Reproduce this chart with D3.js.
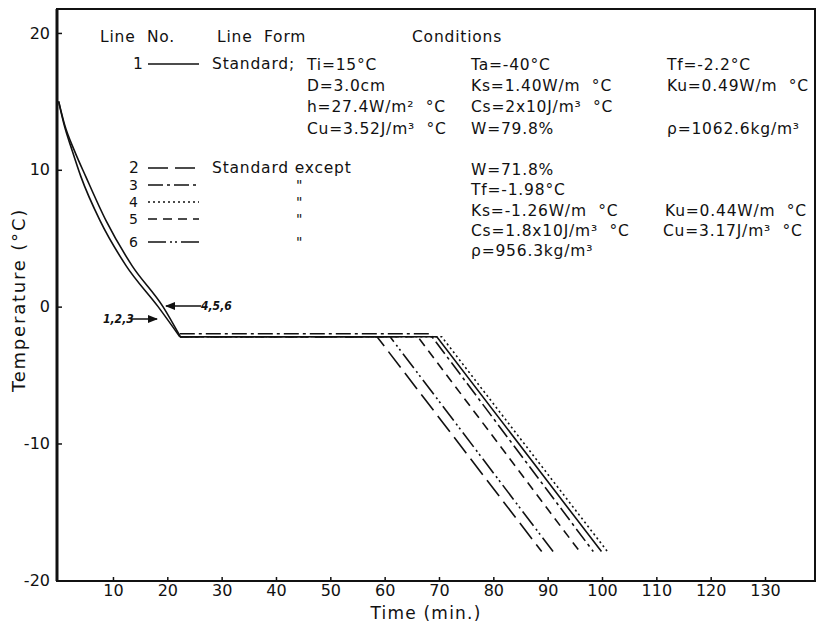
<!DOCTYPE html>
<html>
<head>
<meta charset="utf-8">
<script src="https://cdn.jsdelivr.net/npm/d3@7"></script>
<style>
body { margin: 0; background: #fff; }
svg text { font-family: "DejaVu Sans", sans-serif; fill: #111; white-space: pre; }
</style>
</head>
<body>
<div class="container"></div>
<script>
// cooling down to the freezing point (same curve for 1,2,3 and for 4,5,6)
const coolTime123 = [0, 1.0, 2.5, 4.1, 7.6, 12.4, 18.3, 22.3]
const coolTemp123 = [15, 13.3, 11.4, 9.5, 6.3, 3.0, 0, -2.2]
const coolTime456 = [0, 1.1, 2.9, 5.0, 8.7, 13.5, 19.2, 22.4]
const coolTemp456 = [15, 13.3, 11.4, 9.5, 6.3, 3.0, 0, -2.2]

// freezing plateau + descent, one entry per line
const lineNos = ['1', '2', '3', '4', '5', '6']
const freezeTemp = [-2.2, -2.2, -1.98, -2.2, -2.2, -2.2]
const freezeStart = [22.3, 22.3, 22.3, 22.4, 22.4, 22.4]
const freezeEnd = [69.6, 58.6, 68.3, 70.5, 66.1, 61.0]
const endTime = [99.9, 88.9, 98.4, 101.2, 95.9, 91.0]
const endTemp = [-17.9, -17.9, -17.9, -18.0, -17.9, -17.9]

const xTicks = [10, 20, 30, 40, 50, 60, 70, 80, 90, 100, 110, 120, 130]
const yTicks = [-20, -10, 0, 10, 20]

const lineForms = ['Standard;', 'Standard except', '"', '"', '"', '"']
const standardConditions = [
    ['Ti=15°C', 'Ta=-40°C', 'Tf=-2.2°C'],
    ['D=3.0cm', 'Ks=1.40W/m  °C', 'Ku=0.49W/m  °C'],
    ['h=27.4W/m²  °C', 'Cs=2x10J/m³  °C', ''],
    ['Cu=3.52J/m³  °C', 'W=79.8%', 'ρ=1062.6kg/m³']
]
const exceptConditions = [
    ['W=71.8%'],
    ['Tf=-1.98°C'],
    ['Ks=-1.26W/m  °C', 'Ku=0.44W/m  °C'],
    ['Cs=1.8x10J/m³  °C', 'Cu=3.17J/m³  °C'],
    ['ρ=956.3kg/m³']
]

// styles
const dashes = ['none', '20,7', '15,4,3,4', '2,3', '9,6', '18,4,2,3,2,4']
const margin = {top: 9, left: 57, right: 3, bottom: 44}
const W = 818, H = 625
const width = W - margin.left - margin.right
const height = H - margin.top - margin.bottom

const svg = d3.select('.container')
    .append('svg')
    .attr('width', W)
    .attr('height', H)

const g = svg.append('g')
    .attr('transform', `translate(${margin.left},${margin.top})`)

const x = d3.scaleLinear().domain([-0.3, 139.2]).range([0, width])
const y = d3.scaleLinear().domain([-20.05, 21.75]).range([height, 0])

// axes
const xAxis = g.append('g')
    .attr('transform', `translate(0,${height})`)
    .call(d3.axisBottom(x).tickValues(xTicks).tickSize(-4).tickPadding(4).tickFormat(d => String(d)))
const yAxis = g.append('g')
    .call(d3.axisLeft(y).tickValues(yTicks).tickSize(-5).tickPadding(7).tickFormat(d => String(d)))

;[xAxis, yAxis].forEach(a => {
    a.select('.domain').remove()
    a.selectAll('line').attr('stroke', '#111').attr('stroke-width', 1.5)
    a.selectAll('text').style('font-size', '16px').attr('fill', '#111')
})

// frame
g.append('rect')
    .attr('x', 0).attr('y', 0)
    .attr('width', width).attr('height', height)
    .attr('fill', 'none').attr('stroke', '#111').attr('stroke-width', 2)
g.append('line')
    .attr('x1', 0).attr('x2', 0).attr('y1', 0).attr('y2', height)
    .attr('stroke', '#111').attr('stroke-width', 3)

// axis titles
svg.append('text')
    .attr('x', 426).attr('y', 619)
    .attr('text-anchor', 'middle')
    .style('font-size', '17px').style('letter-spacing', '1.2px')
    .text('Time (min.)')
svg.append('text')
    .attr('transform', 'translate(25,300) rotate(-90)')
    .attr('text-anchor', 'middle')
    .style('font-size', '18px').style('letter-spacing', '1.8px')
    .text('Temperature (°C)')

const line = d3.line().x(d => x(d[0])).y(d => y(d[1]))
const curve = d3.line().x(d => x(d[0])).y(d => y(d[1])).curve(d3.curveMonotoneX)

// cooling curves
const coolA = coolTime123.map((t, i) => [t, coolTemp123[i]])
const coolB = coolTime456.map((t, i) => [t, coolTemp456[i]])
g.selectAll('.cool')
    .data([coolA, coolB])
    .enter()
    .append('path')
    .attr('class', 'cool')
    .attr('d', curve)
    .attr('fill', 'none')
    .attr('stroke', '#111')
    .attr('stroke-width', 1.6)

// plateau and descent for every line
const series = lineNos.map((n, i) => ({
    n,
    pts: [[freezeStart[i], freezeTemp[i]], [freezeEnd[i], freezeTemp[i]], [endTime[i], endTemp[i]]]
}))
g.selectAll('.run')
    .data(series)
    .enter()
    .append('path')
    .attr('class', 'run')
    .attr('d', d => line(d.pts))
    .attr('fill', 'none')
    .attr('stroke', '#111')
    .attr('stroke-width', 1.6)
    .attr('stroke-dasharray', (d, i) => dashes[i])

// legend / conditions table
const txt = (xx, yy, s, size) => svg.append('text')
    .attr('x', xx).attr('y', yy)
    .style('font-size', (size || 15.5) + 'px')
    .style('letter-spacing', '0.8px')
    .text(s)

txt(100, 42, 'Line  No.')
txt(217, 42, 'Line  Form')
txt(412, 42, 'Conditions')

const rowY = [64, 168, 185, 202, 219, 242]
lineNos.forEach((n, i) => {
    txt(i === 0 ? 133 : 129, rowY[i] + 5, n, i < 2 ? 15.5 : 14)
    svg.append('line')
        .attr('x1', 148).attr('x2', 199)
        .attr('y1', rowY[i]).attr('y2', rowY[i])
        .attr('stroke', '#111').attr('stroke-width', 1.6)
        .attr('stroke-dasharray', dashes[i])
    txt(i < 2 ? 212 : 296, rowY[i] + 5, lineForms[i], i < 2 ? 15.5 : 14)
})

const stdX = [307, 471, 667]
const stdY = [70, 91, 112, 134]
standardConditions.forEach((row, r) => {
    row.forEach((s, c) => { if (s) txt(stdX[c], stdY[r], s) })
})
const excY = [175, 195, 216, 236, 256]
const excX = [[471], [471], [471, 665], [471, 663], [471]]
exceptConditions.forEach((row, r) => {
    row.forEach((s, c) => txt(excX[r][c], excY[r], s))
})

// arrows pointing at the two cooling curves
svg.append('defs').append('marker')
    .attr('id', 'head').attr('viewBox', '0 0 10 10')
    .attr('refX', 9).attr('refY', 5)
    .attr('markerWidth', 7).attr('markerHeight', 7)
    .attr('orient', 'auto-start-reverse')
    .append('path').attr('d', 'M0,1L10,5L0,9Z').attr('fill', '#111')

svg.append('line')
    .attr('x1', 131).attr('x2', 157).attr('y1', 319).attr('y2', 319)
    .attr('stroke', '#111').attr('stroke-width', 1.5)
    .attr('marker-end', 'url(#head)')
svg.append('line')
    .attr('x1', 201).attr('x2', 166).attr('y1', 306).attr('y2', 306)
    .attr('stroke', '#111').attr('stroke-width', 1.5)
    .attr('marker-end', 'url(#head)')
svg.append('text')
    .attr('x', 103).attr('y', 323)
    .style('font-family', '"DejaVu Sans Condensed", "DejaVu Sans", sans-serif')
    .style('font-size', '12px').style('font-weight', 'bold').style('font-style', 'italic')
    .text('1,2,3')
svg.append('text')
    .attr('x', 201).attr('y', 310)
    .style('font-family', '"DejaVu Sans Condensed", "DejaVu Sans", sans-serif')
    .style('font-size', '12px').style('font-weight', 'bold').style('font-style', 'italic')
    .text('4,5,6')
</script>
</body>
</html>
